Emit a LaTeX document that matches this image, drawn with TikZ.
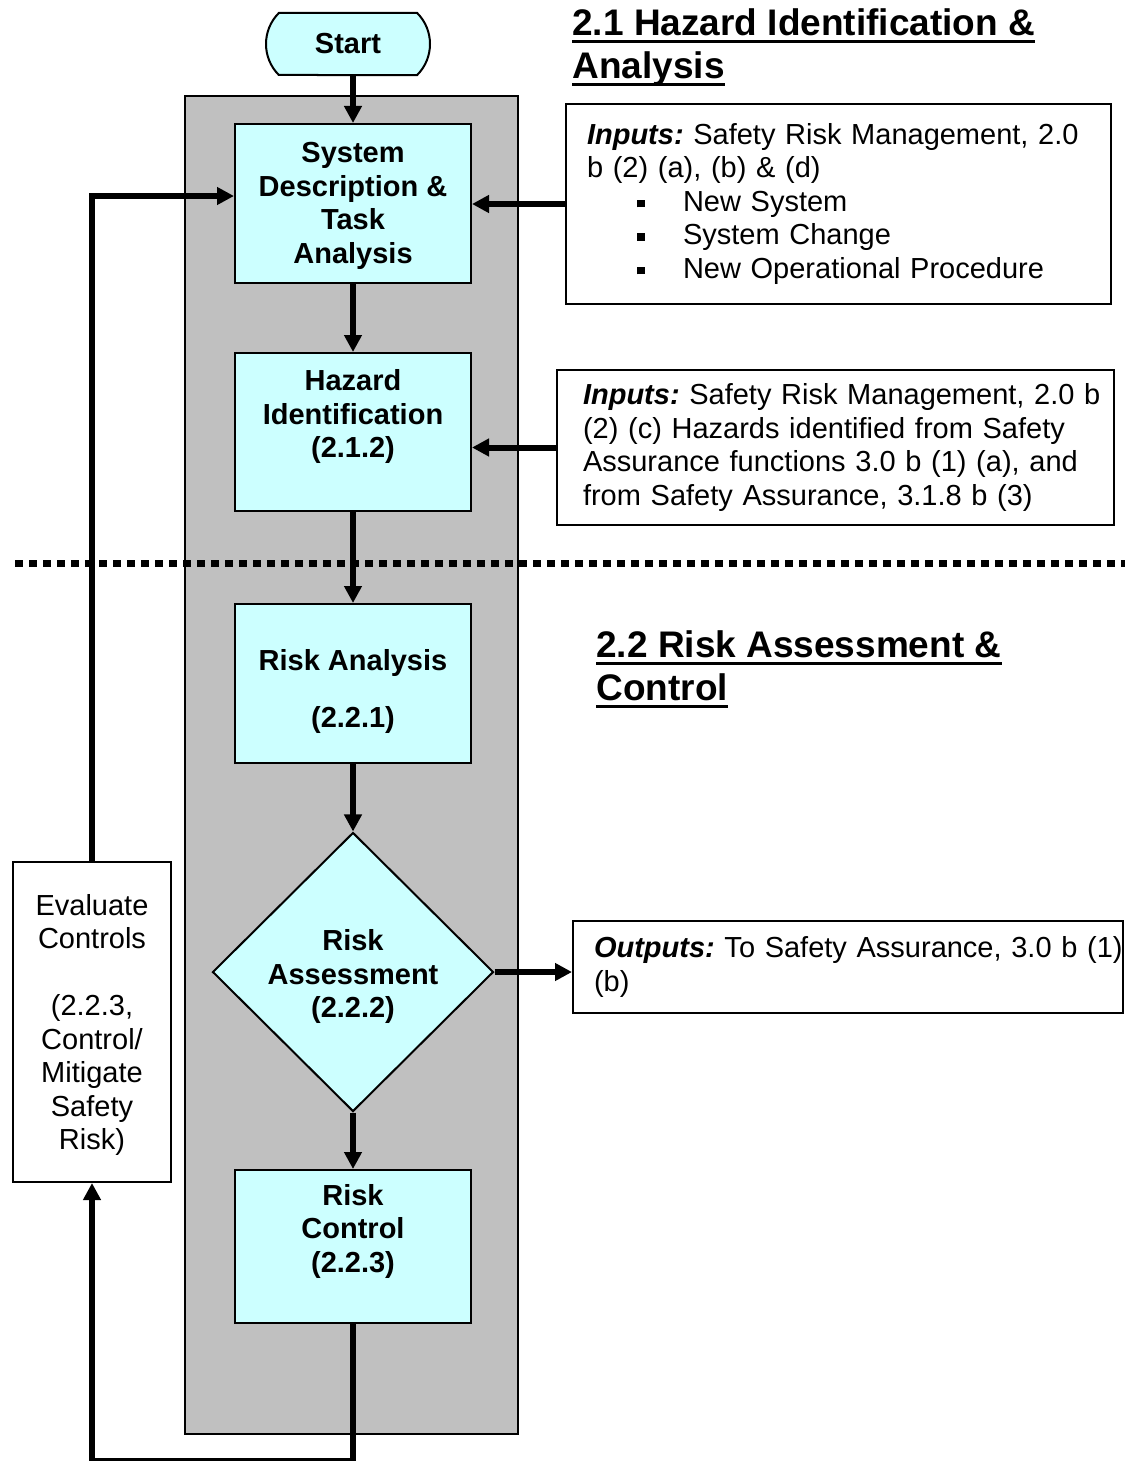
\documentclass[tikz,border=0pt]{standalone}
\usepackage{fontspec}
\setmainfont{Liberation Sans}
\usetikzlibrary{arrows.meta}
\usetikzlibrary{shapes.geometric}
\usetikzlibrary{shapes.misc}

\definecolor{boxcyan}{HTML}{CCFFFF}
\definecolor{panelgray}{HTML}{C0C0C0}

\newcommand{\bodyfont}{\fontsize{14.5pt}{16.75pt}\selectfont\frenchspacing}
\newcommand{\headfont}{\fontsize{18.5pt}{21.5pt}\selectfont\bfseries}
% underlined heading line
\newcommand{\headline}[1]{\setbox0\hbox{#1}\rlap{\rule[-4pt]{\wd0}{1.8pt}}\box0}
% square bullet
\newcommand{\sqbullet}{\hspace*{25pt}\rule[2pt]{3.75pt}{3.75pt}\hspace*{19.25pt}}

\tikzset{
    proc/.style={draw, fill=boxcyan, line width=1pt, font=\bodyfont\bfseries,
        align=center, inner sep=0pt, minimum width=118pt},
    note/.style={draw, fill=white, line width=1pt, font=\bodyfont, align=left},
    flow/.style={line width=3pt, -{Triangle[length=8.5pt,width=8.5pt]}}
}

\begin{document}
\begin{tikzpicture}[x=0.5pt, y=-0.5pt]

    \useasboundingbox (0,0) rectangle (1125,1461);

    % grey panel behind the process column
    \draw [line width=1pt, fill=panelgray] (185,96) rectangle (518,1434);

    % dotted line between 2.1 and 2.2
    \draw [line width=3.5pt, dash pattern=on 4pt off 3pt] (15,563) -- (1125,563);

    % headings
    \node [anchor=north west, inner sep=0pt, align=left, font=\headfont] at (572,8) (headhaz)
        {\headline{2.1 Hazard Identification \&}\\\headline{Analysis}};
    \node [anchor=north west, inner sep=0pt, align=left, font=\headfont] at (596,630) (headrisk)
        {\headline{2.2 Risk Assessment \&}\\\headline{Control}};

    % start
    \node [rounded rectangle, rounded rectangle arc length=90, draw, fill=boxcyan,
        line width=1pt, font=\bodyfont\bfseries, minimum width=82pt, minimum height=31pt,
        inner sep=0pt] at (348,44) (start) {Start};

    % process column
    \node [proc, minimum height=79.5pt] at (353,203.5) (sysdesc)
        {\rule{0pt}{12.5pt}System\\Description \&\\Task\\Analysis};
    \node [proc, minimum height=79pt] at (353,432) (hazid)
        {\rule{0pt}{14pt}Hazard\\Identification\\(2.1.2)\\\strut};
    \node [proc, minimum height=79.5pt] at (353,683.5) (riskan)
        {\rule{0pt}{18.5pt}Risk Analysis\\[11.5pt](2.2.1)};
    \node [diamond, draw, fill=boxcyan, line width=1pt, font=\bodyfont\bfseries,
        align=center, inner sep=0pt, minimum width=140.5pt, minimum height=139.5pt]
        at (353,972) (riskas) {\rule{0pt}{15pt}Risk\\Assessment\\(2.2.2)};
    \node [proc, minimum height=76.5pt] at (353,1246.5) (riskctl)
        {\rule{0pt}{14pt}Risk\\Control\\(2.2.3)\\\strut};

    % evaluate controls box on the left
    \node [draw, fill=white, line width=1pt, font=\bodyfont, align=center, inner sep=0pt,
        minimum width=79pt, minimum height=160pt] at (92,1022) (evalctl)
        {\rule{0pt}{13.5pt}Evaluate\\Controls\\[16.75pt](2.2.3,\\Control/\\Mitigate\\Safety\\Risk)};

    % inputs and outputs
    \node [note, text width=251.5pt, inner xsep=10.5pt, minimum height=100pt]
        at (838.5,204) (inputsys)
        {{\bfseries\itshape Inputs:} Safety Risk Management, 2.0\\
         b (2) (a), (b) \& (d)\\
         \sqbullet New System\\
         \sqbullet System Change\\
         \sqbullet New Operational Procedure};
    \node [note, text width=252.5pt, inner xsep=13pt, minimum height=77.5pt]
        at (835.5,447.5) (inputhaz)
        {\mbox{{\bfseries\itshape Inputs:} Safety Risk Management, 2.0 b}\\
         (2) (c) Hazards identified from Safety\\
         Assurance functions 3.0 b (1) (a), and\\
         from Safety Assurance, 3.1.8 b (3)};
    \node [note, text width=254pt, inner xsep=10.5pt, minimum height=46pt]
        at (848,967) (outputs)
        {\mbox{{\bfseries\itshape Outputs:} To Safety Assurance, 3.0 b (1)}\\(b)};

    % main flow
    \draw [flow] (sysdesc.north |- start.south) -- (sysdesc.north);
    \draw [flow] (sysdesc) -- (hazid);
    \draw [flow] (hazid) -- (riskan);
    \draw [flow] (riskan) -- (riskas);
    \draw [flow] (riskas) -- (riskctl);

    % inputs in, outputs out
    \draw [flow] (inputsys.west) -- (inputsys.west -| sysdesc.east);
    \draw [flow] (inputhaz.west) -- (inputhaz.west -| hazid.east);
    \draw [flow] (riskas.east) -- (riskas.east -| outputs.west);

    % feedback loop through evaluate controls
    \draw [flow] (riskctl.south) -- ++(0,136.5) -| (evalctl.south);
    \draw [flow] (evalctl.north) |- ([yshift=3.75pt]sysdesc.west);

\end{tikzpicture}
\end{document}
